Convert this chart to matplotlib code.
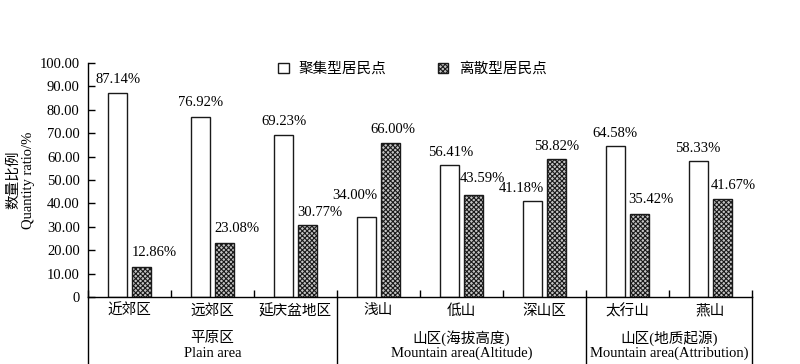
import matplotlib
matplotlib.use("Agg")
import matplotlib.pyplot as plt
import matplotlib.transforms as mtransforms
from matplotlib.patches import Patch
import numpy as np

plt.rcParams['font.family'] = ['Liberation Serif', 'Noto Sans CJK SC', 'DejaVu Sans']
plt.rcParams['font.size'] = 10.5
plt.rcParams['hatch.linewidth'] = 0.8

# data
categories = ['近郊区', '远郊区', '延庆盆地区', '浅山', '低山', '深山区', '太行山', '燕山']
clustered = [87.14, 76.92, 69.23, 34.00, 56.41, 41.18, 64.58, 58.33]
scattered = [12.86, 23.08, 30.77, 66.00, 43.59, 58.82, 35.42, 41.67]
groups_cn = ['平原区', '山区(海拔高度)', '山区(地质起源)']
groups_en = ['Plain area', 'Mountain area(Altitude)', 'Mountain area(Attribution)']
group_sizes = [3, 3, 2]
series_names = ['聚集型居民点', '离散型居民点']

# label nudges in pixels (dx, dy) from top centre of each bar
off_c = [(1, 14), (0, 14), (1, 13), (-12, 22), (1, 12), (-11, 12), (-1, 12), (-1, 12)]
off_s = [(13, 14), (12, 15), (12, 13), (2, 13), (9, 17), (0, 13), (11, 15), (11, 14)]

fig = plt.figure(figsize=(8, 3.64), dpi=100)
ax = fig.add_axes([0.11, 0.184, 0.83, 0.643])

x = np.arange(len(categories))
w = 0.23
d = 0.145
hatch_face = '#c4c4c4'
b1 = ax.bar(x - d, clustered, w, color='white', edgecolor='#1a1a1a', linewidth=1.0)
b2 = ax.bar(x + d, scattered, w, color=hatch_face, edgecolor='#1a1a1a', linewidth=1.0,
            hatch='xxxxxxx')

for bars, vals, offs in [(b1, clustered, off_c), (b2, scattered, off_s)]:
    for r, v, (dx, dy) in zip(bars, vals, offs):
        ax.annotate('%.2f%%' % v, (r.get_x() + r.get_width() / 2, v),
                    xytext=(dx, dy), textcoords='offset pixels',
                    ha='center', va='center', fontsize=10.5)

ax.set_xlim(-0.5, len(categories) - 0.5)
ax.set_ylim(0, 100)
yt = np.arange(0, 101, 10)
ax.set_yticks(yt)
ax.set_yticklabels(['0'] + ['%.2f' % t for t in yt[1:]])
ax.tick_params(axis='y', direction='in', length=5, width=1, pad=6)

ax.set_xticks(x)
ax.set_xticklabels(categories)
ax.set_xticks(np.arange(-0.5, len(categories)), minor=True)
ax.tick_params(axis='x', which='major', length=0, pad=5)
ax.tick_params(axis='x', which='minor', direction='in', length=5, width=1)

for s in ['top', 'right']:
    ax.spines[s].set_visible(False)
for s in ['left', 'bottom']:
    ax.spines[s].set_linewidth(1.0)

# group separators and labels under the axis
tr = mtransforms.blended_transform_factory(ax.transData, ax.transAxes)
edges = np.concatenate([[0], np.cumsum(group_sizes)]) - 0.5
for e in edges:
    ax.plot([e, e], [0, -0.29], transform=tr, color='black', lw=1.0, clip_on=False)
for i in range(len(group_sizes)):
    cx = (edges[i] + edges[i + 1]) / 2
    ax.text(cx, -0.176, groups_cn[i], transform=tr, ha='center', va='center')
    ax.text(cx, -0.240, groups_en[i], transform=tr, ha='center', va='center')

fig.text(21 / 800, 0.505, '数量比例\nQuantity ratio/%', rotation=90,
         ha='center', va='center', linespacing=1.15)

handles = [Patch(facecolor='white', edgecolor='#1a1a1a', linewidth=1.0),
           Patch(facecolor=hatch_face, edgecolor='#1a1a1a', linewidth=1.0, hatch='xxxxxxx')]
fig.legend(handles, series_names, loc='center', bbox_to_anchor=(0.515, 0.81), ncol=2,
           frameon=False, handlelength=0.75, handleheight=0.75, handletextpad=0.7,
           columnspacing=3.5, fontsize=10.5)

fig.savefig('out.png', dpi=100)
